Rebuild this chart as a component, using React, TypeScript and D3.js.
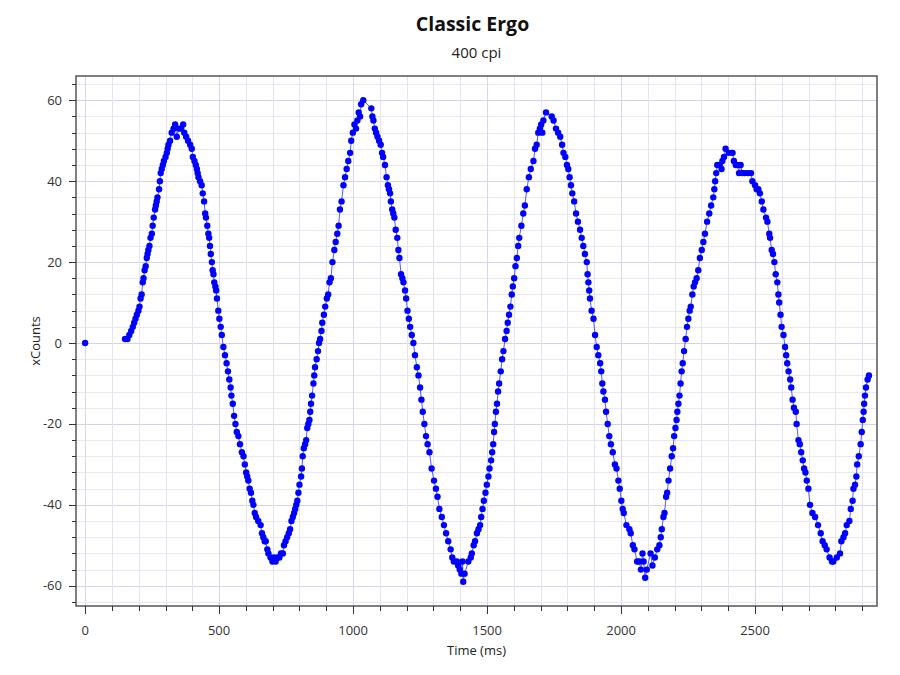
import React from "react";
import * as d3 from "d3";

const chartTitle = "Classic Ergo";
const chartSubtitle = "400 cpi";
const xAxisTitle = "Time (ms)";
const yAxisTitle = "xCounts";

const xMajorTicks = [0, 500, 1000, 1500, 2000, 2500];
const yMajorTicks = [-60, -40, -20, 0, 20, 40, 60];
const xDomain = [-34, 2955];
const yDomain = [-65, 66];

// [time ms, xCounts]
const samples: [number, number][] = [
  [0,0],
  [149,1],[158,1],[165,2],[172,3],[178,4],[183,5],[188,6],[193,7],[199,8],[203,9],[207,11],[211,12],[215,15],[218,16],[222,18],[226,19],[230,21],[233,22],[236,23],[240,24],[244,26],[249,27],[252,29],[256,31],[261,33],[264,34],[267,35],[270,36],[276,38],[279,40],[282,42],[286,43],[290,44],[294,45],[300,46],[305,47],[308,48],[311,49],[317,50],[323,52],[330,53],[336,54],[342,51],[350,53],[358,53],[366,54],[370,52],[377,51],[384,50],[392,49],[398,48],[402,46],[408,45],[413,44],[417,43],[420,42],[423,41],[429,40],[435,39],[439,37],[444,35],[448,32],[451,31],[456,29],[460,27],[463,26],[466,24],[469,22],[473,20],[476,18],[479,17],[482,15],[486,14],[489,13],[492,11],[497,8],[501,6],[506,4],[510,2],[516,-1],[522,-3],[528,-5],[533,-7],[538,-9],[543,-11],[546,-13],[551,-15],[556,-18],[561,-20],[566,-22],[572,-23],[578,-25],[585,-27],[591,-28],[596,-30],[601,-32],[605,-33],[609,-34],[614,-36],[619,-37],[624,-39],[628,-40],[633,-42],[638,-43],[646,-44],[655,-45],[660,-47],[665,-48],[670,-49],[674,-49],[680,-51],[684,-52],[692,-53],[699,-54],[705,-53],[711,-54],[718,-53],[725,-53],[731,-52],[738,-52],[742,-50],[748,-49],[754,-48],[760,-47],[765,-46],[770,-44],[775,-43],[780,-42],[784,-41],[788,-40],[792,-39],[796,-37],[800,-35],[806,-33],[809,-31],[812,-28],[816,-26],[821,-25],[825,-24],[829,-21],[833,-20],[837,-19],[840,-17],[843,-15],[847,-13],[852,-10],[855,-8],[858,-6],[864,-4],[869,-2],[873,0],[877,1],[882,3],[885,5],[891,7],[896,9],[902,11],[907,12],[912,15],[917,16],[923,20],[930,23],[935,25],[941,27],[946,29],[951,33],[957,35],[964,39],[970,41],[976,43],[982,45],[989,47],[993,50],[999,52],[1005,54],[1011,53],[1016,55],[1021,57],[1026,56],[1030,59],[1038,60],[1068,58],[1072,56],[1076,55],[1081,53],[1086,52],[1091,51],[1097,50],[1103,49],[1108,47],[1112,46],[1119,44],[1125,41],[1130,39],[1134,38],[1138,37],[1141,35],[1146,33],[1150,32],[1154,31],[1159,28],[1165,26],[1169,23],[1173,21],[1179,17],[1184,16],[1188,15],[1194,13],[1198,11],[1203,8],[1208,6],[1213,4],[1219,2],[1225,0],[1231,-3],[1238,-6],[1244,-8],[1250,-11],[1255,-14],[1260,-17],[1266,-20],[1272,-23],[1278,-25],[1285,-27],[1293,-31],[1302,-34],[1309,-36],[1315,-38],[1322,-41],[1331,-43],[1339,-45],[1347,-47],[1355,-49],[1364,-51],[1370,-53],[1376,-54],[1387,-54],[1392,-55],[1398,-56],[1404,-57],[1408,-54],[1411,-59],[1416,-57],[1430,-54],[1439,-53],[1443,-52],[1450,-50],[1455,-49],[1462,-47],[1468,-46],[1474,-45],[1478,-43],[1483,-41],[1488,-39],[1494,-37],[1499,-35],[1505,-33],[1509,-31],[1515,-29],[1519,-27],[1523,-25],[1526,-22],[1529,-20],[1533,-17],[1537,-15],[1541,-12],[1545,-10],[1551,-7],[1556,-4],[1561,-2],[1567,1],[1573,3],[1577,5],[1582,7],[1587,9],[1592,12],[1596,14],[1601,16],[1606,19],[1611,21],[1616,24],[1620,26],[1628,29],[1635,32],[1641,34],[1648,38],[1656,41],[1663,43],[1673,45],[1679,48],[1685,49],[1691,52],[1697,53],[1702,54],[1706,52],[1710,55],[1720,57],[1741,56],[1748,55],[1757,53],[1765,52],[1773,51],[1780,49],[1785,47],[1792,46],[1798,44],[1803,43],[1808,41],[1813,39],[1818,37],[1825,35],[1832,32],[1839,30],[1847,28],[1853,26],[1859,24],[1865,22],[1872,20],[1875,17],[1878,15],[1881,13],[1884,11],[1890,8],[1897,6],[1903,2],[1909,-1],[1915,-3],[1922,-5],[1926,-7],[1930,-10],[1934,-12],[1940,-14],[1944,-17],[1950,-20],[1956,-23],[1962,-25],[1969,-27],[1977,-30],[1983,-31],[1990,-34],[1995,-36],[2001,-39],[2006,-41],[2010,-42],[2020,-45],[2031,-46],[2036,-47],[2044,-50],[2050,-51],[2060,-54],[2068,-54],[2074,-56],[2080,-52],[2084,-54],[2090,-58],[2096,-56],[2110,-52],[2117,-55],[2126,-53],[2135,-51],[2143,-50],[2148,-48],[2152,-46],[2158,-43],[2162,-42],[2168,-38],[2172,-37],[2177,-34],[2183,-31],[2189,-28],[2194,-26],[2198,-23],[2203,-21],[2207,-19],[2210,-17],[2214,-15],[2218,-13],[2222,-10],[2226,-7],[2230,-5],[2235,-2],[2241,1],[2246,4],[2251,6],[2256,8],[2260,9],[2266,12],[2271,14],[2276,15],[2282,16],[2288,18],[2294,21],[2301,23],[2307,25],[2313,27],[2321,30],[2329,32],[2336,34],[2344,36],[2348,38],[2351,40],[2355,42],[2359,44],[2368,44],[2375,43],[2378,45],[2384,46],[2390,48],[2402,47],[2416,47],[2421,45],[2428,44],[2434,44],[2440,42],[2446,44],[2452,42],[2462,42],[2474,42],[2485,42],[2490,40],[2500,39],[2506,38],[2512,38],[2518,37],[2525,35],[2531,33],[2541,31],[2546,30],[2553,27],[2556,26],[2562,23],[2567,22],[2572,20],[2577,17],[2583,15],[2587,12],[2590,10],[2595,7],[2599,4],[2606,2],[2612,-1],[2616,-3],[2620,-5],[2625,-7],[2631,-9],[2635,-11],[2640,-14],[2645,-16],[2652,-17],[2655,-20],[2662,-24],[2667,-25],[2672,-27],[2678,-29],[2683,-31],[2688,-32],[2693,-34],[2699,-36],[2705,-40],[2714,-42],[2724,-43],[2735,-45],[2745,-47],[2752,-49],[2760,-50],[2767,-51],[2778,-53],[2787,-54],[2792,-54],[2805,-53],[2817,-52],[2822,-49],[2830,-48],[2836,-47],[2842,-45],[2852,-44],[2857,-41],[2864,-39],[2867,-36],[2873,-35],[2878,-33],[2881,-30],[2887,-28],[2894,-25],[2898,-22],[2902,-19],[2905,-17],[2907,-15],[2910,-13],[2914,-11],[2920,-9],[2925,-8]
];

const W = 900, H = 675;
const plot = { left: 76, right: 877, top: 76, bottom: 606 };
const FONT = "'Open Sans', 'Noto Sans', sans-serif";

export default function App() {
  const x = d3.scaleLinear().domain(xDomain).range([plot.left, plot.right]);
  const y = d3.scaleLinear().domain(yDomain).range([plot.bottom, plot.top]);
  const xMinor = d3.range(0, xDomain[1], 100);
  const yMinor = d3.range(-64, yDomain[1], 4);
  const line = d3.line<[number, number]>().x(d => x(d[0])).y(d => y(d[1]));
  const midX = (plot.left + plot.right) / 2;

  return (
    <svg width={W} height={H} style={{ position: "absolute", left: 0, top: 0, background: "#fff" }} fontFamily={FONT}>
      <rect x={0} y={0} width={W} height={H} fill="#fff" />
      <text x={midX - 4} y={31} textAnchor="middle" fontSize={19.5} fontWeight={700} fill="#111">{chartTitle}</text>
      <text x={midX} y={58} textAnchor="middle" fontSize={15} fill="#222">{chartSubtitle}</text>
      <g>
        {yMinor.map(v => (
          <line key={"ym" + v} x1={plot.left} x2={plot.right} y1={Math.round(y(v)) + 0.5} y2={Math.round(y(v)) + 0.5}
            stroke={v % 20 === 0 ? "#d2d2ee" : "#e8e8f4"} strokeWidth={1} />
        ))}
        {xMinor.map(v => (
          <line key={"xm" + v} y1={plot.top} y2={plot.bottom} x1={Math.round(x(v)) + 0.5} x2={Math.round(x(v)) + 0.5}
            stroke={v % 500 === 0 ? "#d6d6ef" : "#e3e3f4"} strokeWidth={1} />
        ))}
      </g>
      <path d={line(samples.slice(1)) || ""} fill="none" stroke="#3a3aff" strokeOpacity={0.85} strokeWidth={1} />
      <g fill="#0000ff">
        {samples.map((d, i) => (
          <circle key={i} cx={x(d[0])} cy={y(d[1])} r={3.2} />
        ))}
      </g>
      <rect x={plot.left} y={plot.top} width={plot.right - plot.left} height={plot.bottom - plot.top}
        fill="none" stroke="#555" strokeWidth={1.5} />
      <g>
        {yMinor.map(v => (
          <line key={"yt" + v} x1={plot.left} x2={plot.left - (v % 20 === 0 ? 7 : 4)}
            y1={Math.round(y(v)) + 0.5} y2={Math.round(y(v)) + 0.5} stroke="#333" strokeWidth={1} />
        ))}
        {yMajorTicks.map(v => (
          <text key={"yl" + v} x={plot.left - 14} y={y(v)} dy="0.35em" textAnchor="end" fontSize={13} fill="#333">{v}</text>
        ))}
      </g>
      <g>
        {xMinor.map(v => (
          <line key={"xt" + v} y1={plot.bottom} y2={plot.bottom + (v % 500 === 0 ? 8 : 5)}
            x1={Math.round(x(v)) + 0.5} x2={Math.round(x(v)) + 0.5} stroke="#333" strokeWidth={1} />
        ))}
        {xMajorTicks.map(v => (
          <text key={"xl" + v} x={x(v)} y={635} textAnchor="middle" fontSize={13} fill="#333">{v}</text>
        ))}
      </g>
      <text x={midX} y={655} textAnchor="middle" fontSize={13} fill="#222">{xAxisTitle}</text>
      <text transform={`translate(40, ${(plot.top + plot.bottom) / 2}) rotate(-90)`} textAnchor="middle" fontSize={13} fill="#222">{yAxisTitle}</text>
    </svg>
  );
}
